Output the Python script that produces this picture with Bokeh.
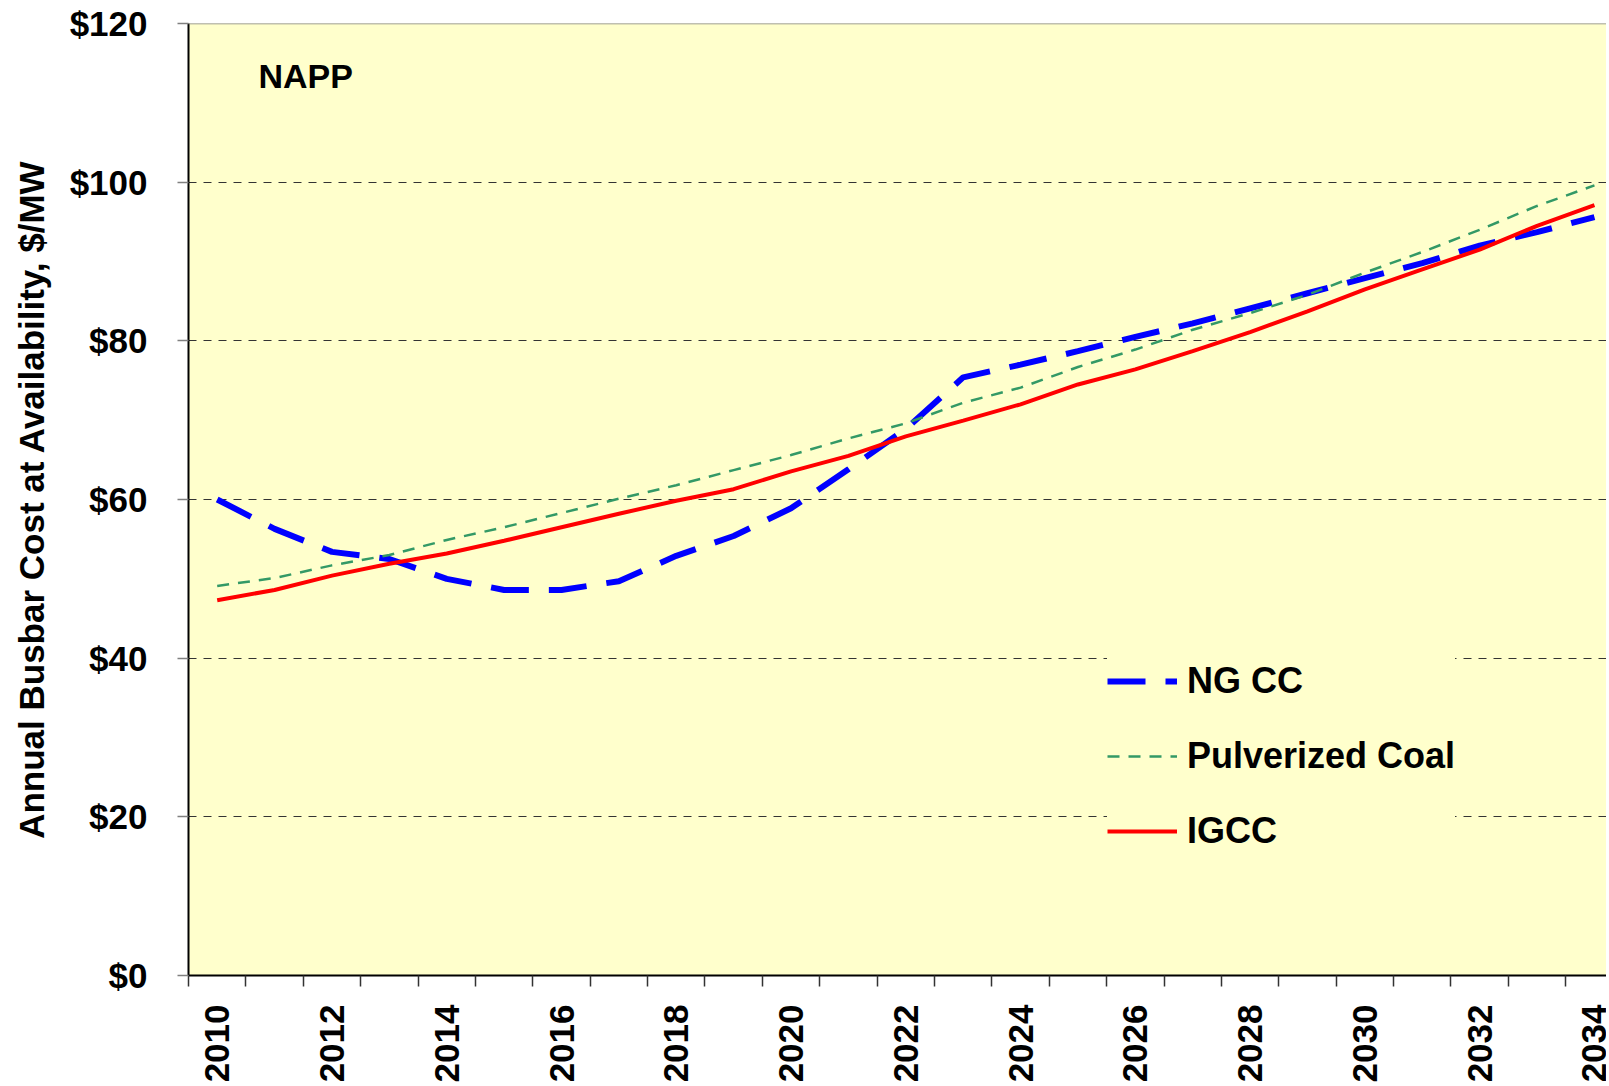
from bokeh.plotting import figure
from bokeh.models import FixedTicker, Span, Legend, LegendItem, Label, Range1d
from bokeh.embed import file_html
from bokeh.resources import INLINE

# ---- data ----
years = list(range(2010, 2035))
ng_cc = [60.0, 56.3, 53.4, 52.5, 50.0, 48.6, 48.6, 49.7, 52.9, 55.4, 58.9, 63.8, 68.9,
         75.4, 77.0, 78.7, 80.5, 82.2, 84.1, 86.0, 87.9, 89.8, 92.0, 93.7, 95.6]
pulverized_coal = [49.1, 50.1, 51.7, 53.0, 54.9, 56.5, 58.3, 60.1, 61.8, 63.7, 65.6, 67.7, 69.6,
                   72.2, 74.1, 76.7, 78.9, 81.4, 83.5, 85.8, 88.6, 91.2, 94.0, 97.0, 99.6]
igcc = [47.3, 48.6, 50.4, 51.9, 53.2, 54.8, 56.5, 58.2, 59.85, 61.3, 63.55, 65.5, 67.95,
        69.95, 72.0, 74.5, 76.4, 78.7, 81.1, 83.7, 86.5, 89.0, 91.5, 94.5, 97.1]
series_names = ["NG CC", "Pulverized Coal", "IGCC"]
y_ticks = [0, 20, 40, 60, 80, 100, 120]
y_tick_labels = ["$0", "$20", "$40", "$60", "$80", "$100", "$120"]
x_label_years = years[::2]
region_name = "NAPP"
y_title = "Annual Busbar Cost at Availability, $/MW"

FONT = "Liberation Sans"

p = figure(width=1606, height=1085, output_backend="svg", toolbar_location=None,
           x_range=Range1d(years[0] - 0.5, 2034.21), y_range=Range1d(0, 120),
           min_border_left=188, min_border_right=0, min_border_top=23, min_border_bottom=0)
p.background_fill_color = "#FFFFCC"
p.border_fill_color = "white"
p.outline_line_color = None

# x axis
xa = p.xaxis[0]
xa.ticker = FixedTicker(ticks=x_label_years, minor_ticks=[y - 0.5 for y in years] + [years[-1] + 0.5])
xa.major_label_overrides = {y: str(y) for y in x_label_years}
xa.major_tick_in = 0
xa.major_tick_out = 0
xa.minor_tick_in = 0
xa.minor_tick_out = 11
xa.minor_tick_line_color = "#333333"
xa.minor_tick_line_width = 1.5
xa.major_label_orientation = 1.5707963
xa.major_label_standoff = 18
xa.major_label_text_font = FONT
xa.major_label_text_font_style = "bold"
xa.major_label_text_font_size = "35px"
xa.major_label_text_color = "black"
xa.axis_line_color = "black"
xa.axis_line_width = 2

# y axis
ya = p.yaxis[0]
ya.ticker = FixedTicker(ticks=y_ticks, minor_ticks=[])
ya.major_label_overrides = {v: l for v, l in zip(y_ticks, y_tick_labels)}
ya.major_tick_in = 0
ya.major_tick_out = 11
ya.major_tick_line_color = "#808080"
ya.major_tick_line_width = 1.5
ya.major_label_standoff = 30
ya.major_label_text_font = FONT
ya.major_label_text_font_style = "bold"
ya.major_label_text_font_size = "35px"
ya.major_label_text_color = "black"
ya.axis_line_color = "black"
ya.axis_line_width = 2
ya.axis_label = y_title
ya.axis_label_text_font = FONT
ya.axis_label_text_font_style = "bold"
ya.axis_label_text_font_size = "35px"
ya.axis_label_text_color = "black"
ya.axis_label_standoff = 16

p.xgrid.grid_line_color = None
p.ygrid.grid_line_color = "#333333"
p.ygrid.grid_line_width = 1
p.ygrid.grid_line_dash = "8 7"

p.add_layout(Span(location=y_ticks[-1], dimension="width", line_color="#808080", line_width=1.5))

r_ng = p.line(years, ng_cc, line_color="#0000FF", line_width=6, line_dash="38 20")
r_pc = p.line(years, pulverized_coal, line_color="#339966", line_width=2.5, line_dash="12 9")
r_ig = p.line(years, igcc, line_color="#FF0000", line_width=4)

legend = Legend(items=[LegendItem(label=series_names[0], renderers=[r_ng]),
                       LegendItem(label=series_names[1], renderers=[r_pc]),
                       LegendItem(label=series_names[2], renderers=[r_ig])],
                location=(919, 114), orientation="vertical",
                background_fill_color="#FFFFCC", background_fill_alpha=1.0,
                border_line_color=None, padding=0, margin=0, spacing=15,
                glyph_width=70, glyph_height=60, label_height=60, label_standoff=10,
                label_text_font=FONT, label_text_font_style="bold",
                label_text_font_size="36px", label_text_color="black")
p.add_layout(legend, "center")

p.add_layout(Label(x=70, y=900, x_units="screen", y_units="screen", text=region_name,
                   text_font=FONT, text_font_style="bold", text_font_size="34px",
                   text_color="black", text_baseline="alphabetic"))

open("out.html", "w").write(file_html(p, INLINE))
